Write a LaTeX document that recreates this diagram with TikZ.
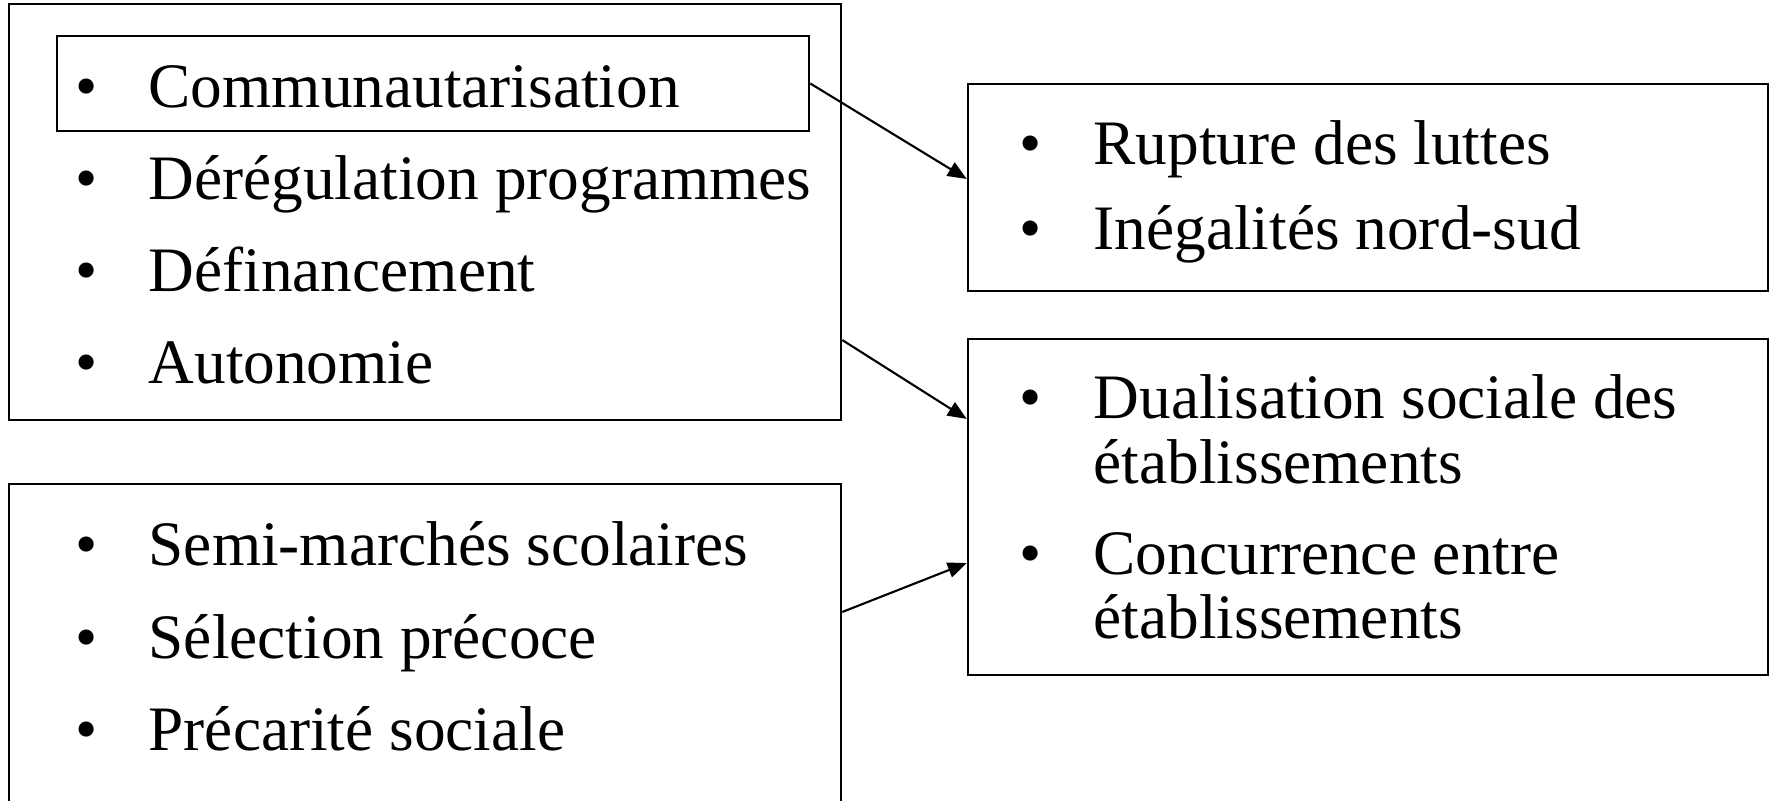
\documentclass[tikz,border=0pt]{standalone}
\usepackage{fontspec}
\setmainfont{Liberation Serif}
\usetikzlibrary{arrows.meta}

\tikzset{
  cadre/.style={draw, line width=0.6pt, inner sep=0pt},
  puce/.style={anchor=base, inner sep=0pt, font=\fontsize{18}{26}\selectfont},
  ligne/.style={anchor=base west, inner sep=0pt, font=\fontsize{18}{26}\selectfont},
  fleche/.style={line width=0.6pt, -{Triangle[length=5.4pt,width=4.4pt]}}
}

\begin{document}
\begin{tikzpicture}[x=0.01cm,y=-0.01cm]
\useasboundingbox (0,0) rectangle (1774,801);
% les cadres
\node[cadre,minimum width=8.32cm,minimum height=4.155cm] (causes) at (425,212) {};
\node[cadre,minimum width=7.52cm,minimum height=0.95cm] (commu) at (433,83.5) {};
\node[cadre,minimum width=8cm,minimum height=2.07cm] (rupture) at (1368,187.5) {};
\node[cadre,minimum width=8cm,minimum height=3.36cm] (dual) at (1368,507) {};
\begin{scope}
\clip (0,0) rectangle (1774,801);
\node[cadre,minimum width=8.32cm,minimum height=3.52cm] (marches) at (425,660) {};
\end{scope}
% premier cadre
\node[puce] (pA1) at (87,107.5) {•};
\node[ligne] (A1) at (148,107.5) {Communautarisation};
\node[puce] (pA2) at (87,200) {•};
\node[ligne] (A2) at (148,200) {Dérégulation programmes};
\node[puce] (pA3) at (87,292) {•};
\node[ligne] (A3) at (148,292) {Définancement};
\node[puce] (pA4) at (87,383.5) {•};
\node[ligne] (A4) at (148,383.5) {Autonomie};
% cadre du bas
\node[puce] (pD1) at (87,566) {•};
\node[ligne] (D1) at (148,566) {Semi-marchés scolaires};
\node[puce] (pD2) at (87,658) {•};
\node[ligne] (D2) at (148,658) {Sélection précoce};
\node[puce] (pD3) at (87,750) {•};
\node[ligne] (D3) at (148,750) {Précarité sociale};
% effets
\node[puce] (pB1) at (1031,165) {•};
\node[ligne] (B1) at (1093,165) {Rupture des luttes};
\node[puce] (pB2) at (1031,250) {•};
\node[ligne] (B2) at (1093,250) {Inégalités nord-sud};
\node[puce] (pC1) at (1031,419) {•};
\node[ligne] (C1) at (1093,419) {Dualisation sociale des};
\node[ligne] (C1b) at (1093,484) {établissements};
\node[puce] (pC2) at (1031,574) {•};
\node[ligne] (C2) at (1093,574) {Concurrence entre};
\node[ligne] (C2b) at (1093,639) {établissements};
% fleches
\draw[fleche] (commu.east) -- ([yshift=0.085cm]rupture.west);
\draw[fleche] ([yshift=-1.28cm]causes.east) -- ([yshift=0.88cm]dual.west);
\draw[fleche] ([yshift=0.48cm]marches.east) -- ([yshift=-0.56cm]dual.west);
\end{tikzpicture}
\end{document}
